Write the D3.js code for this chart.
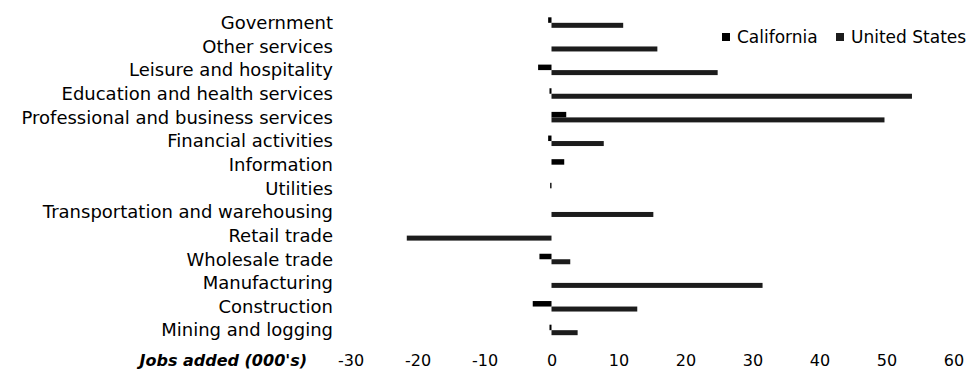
<!DOCTYPE html>
<html>
<head>
<meta charset="utf-8">
<script src="https://cdn.jsdelivr.net/npm/d3@7"></script>
<style>
  html, body { margin: 0; padding: 0; background: #fff; }
  svg { display: block; }
  text { font-family: "DejaVu Sans", sans-serif; fill: #000; }
</style>
</head>
<body>
<svg id="chart" width="978" height="381"></svg>
<script>
// Industries, top to bottom
const categories = [
  "Government",
  "Other services",
  "Leisure and hospitality",
  "Education and health services",
  "Professional and business services",
  "Financial activities",
  "Information",
  "Utilities",
  "Transportation and warehousing",
  "Retail trade",
  "Wholesale trade",
  "Manufacturing",
  "Construction",
  "Mining and logging"
];

// Jobs added, thousands
const california = [-0.5, 0, -2.0, -0.3, 2.2, -0.5, 1.9, -0.2, 0, 0, -1.8, 0, -2.8, -0.3];
const unitedStates = [10.7, 15.8, 24.8, 53.8, 49.7, 7.8, 0, 0, 15.2, -21.6, 2.8, 31.5, 12.8, 3.9];

const seriesNames = ["California", "United States"];
const xTicks = [-30, -20, -10, 0, 10, 20, 30, 40, 50, 60];
const axisTitle = "Jobs added (000's)";

const svg = d3.select("#chart");

const x = d3.scaleLinear().domain([-30, 60]).range([350.5, 953.5]);
const y = d3.scaleBand().domain(categories).range([11, 342]).padding(0);

// Category labels, right-aligned against the plot
const labels = svg.append("g")
  .selectAll("text")
  .data(categories)
  .join("text")
  .attr("x", 333)
  .attr("y", d => y(d) + y.bandwidth() / 2)
  .attr("dy", "0.35em")
  .attr("text-anchor", "end")
  .style("font-size", "16px")
  .text(d => d);

// Fit the label size so the longest label spans the left margin
let widest = 0;
labels.each(function () { widest = Math.max(widest, this.getComputedTextLength()); });
const labelSize = Math.min(18, 16 * 330 / widest);
labels.style("font-size", labelSize + "px");

const rows = categories.map((c, i) => ({ c, ca: california[i], us: unitedStates[i] }));

// California bars sit on the upper half of each row
svg.append("g")
  .selectAll("rect")
  .data(rows)
  .join("rect")
  .attr("x", d => Math.min(x(0), x(d.ca)))
  .attr("width", d => Math.abs(x(d.ca) - x(0)))
  .attr("y", d => y(d.c) + y.bandwidth() / 2 - 5.5)
  .attr("height", 5.5)
  .attr("fill", "#000");

// United States bars on the lower half
svg.append("g")
  .selectAll("rect")
  .data(rows)
  .join("rect")
  .attr("x", d => Math.min(x(0), x(d.us)))
  .attr("width", d => Math.abs(x(d.us) - x(0)))
  .attr("y", d => y(d.c) + y.bandwidth() / 2)
  .attr("height", 5)
  .attr("fill", "#1c1c1c");

// Value axis: labels only, plain hyphen for negatives
const axis = svg.append("g")
  .attr("transform", "translate(0,360)")
  .call(d3.axisBottom(x).tickValues(xTicks).tickSize(0).tickPadding(0).tickFormat(d => String(d)));
axis.select(".domain").remove();
axis.selectAll("text")
  .attr("y", 0)
  .attr("dy", "0.35em")
  .style("font-family", "\"DejaVu Sans\", sans-serif")
  .style("font-size", "16px")
  .attr("fill", "#000");

svg.append("text")
  .attr("x", 307)
  .attr("y", 360)
  .attr("dy", "0.35em")
  .attr("text-anchor", "end")
  .style("font-size", "16px")
  .style("font-weight", "bold")
  .style("font-style", "italic")
  .text(axisTitle);

// Legend
const legend = svg.append("g").attr("transform", "translate(722,37)");
const legendX = [0, 114];
const legendFill = ["#000", "#1c1c1c"];
const items = legend.selectAll("g")
  .data(seriesNames)
  .join("g")
  .attr("transform", (d, i) => `translate(${legendX[i]},0)`);
items.append("rect")
  .attr("x", 0).attr("y", -4)
  .attr("width", 8).attr("height", 8)
  .attr("fill", (d, i) => legendFill[i]);
items.append("text")
  .attr("x", 15)
  .attr("dy", "0.35em")
  .style("font-size", "17px")
  .text(d => d);
</script>
</body>
</html>
